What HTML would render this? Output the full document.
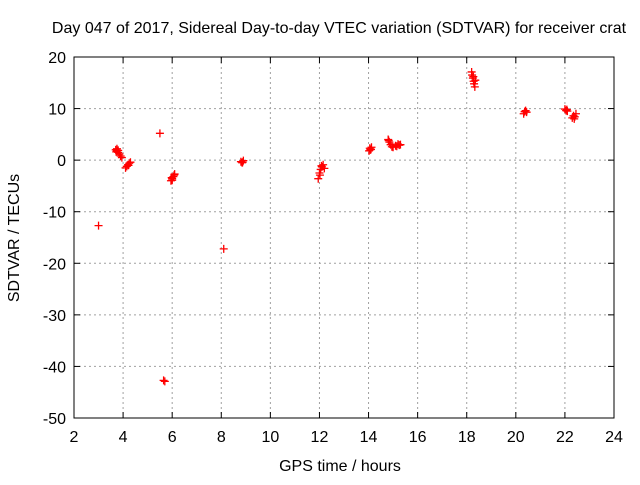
<!DOCTYPE html>
<html><head><meta charset="utf-8"><style>
body{margin:0;background:#fff}
svg{font-family:"Liberation Sans",sans-serif;font-size:16px}
</style></head><body>
<svg id="c" width="640" height="480">
<text x="339" y="33" text-anchor="middle">Day 047 of 2017, Sidereal Day-to-day VTEC variation (SDTVAR) for receiver crat</text>
<text x="340" y="471" text-anchor="middle">GPS time / hours</text>
<text transform="translate(19,238) rotate(-90)" text-anchor="middle">SDTVAR / TECUs</text>
<g id="grid"></g><g id="ticks"></g><g id="pts"></g>
<rect x="74" y="57" width="540" height="361" fill="none" stroke="#000"/>
</svg>
<script>
const xTicks=[2,4,6,8,10,12,14,16,18,20,22,24];
const yTicks=[20,10,0,-10,-20,-30,-40,-50];
const xs=[3.0,3.7,3.75,3.8,3.85,3.75,3.9,3.95,3.8,3.72,4.15,4.2,4.25,4.3,4.1,4.22,5.5,5.65,5.7,5.95,6.0,6.05,6.1,6.0,5.98,6.08,8.1,8.8,8.85,8.9,8.87,11.95,12.0,12.05,12.1,12.15,12.2,12.02,12.08,14.02,14.05,14.1,14.12,14.07,14.8,14.85,14.9,14.95,15.0,15.1,15.2,15.3,15.15,14.82,15.25,18.2,18.22,18.25,18.28,18.3,18.33,18.35,18.27,20.32,20.36,20.4,20.44,22.0,22.05,22.08,22.1,22.3,22.35,22.4,22.45,22.38];
const ys=[-12.7,2,1.8,1.5,1.2,2.2,0.8,0.5,1.9,1.6,-1.2,-0.9,-0.6,-0.4,-1.5,-1.0,5.2,-42.7,-42.9,-4,-3.6,-3.2,-2.7,-3.9,-3.4,-2.9,-17.2,-0.3,-0.5,-0.1,-0.4,-3.6,-2.5,-1.8,-1.3,-0.9,-1.6,-2.9,-1.1,1.8,2.3,2.1,2.5,2.0,4.0,3.5,3.0,2.6,2.5,2.8,3.1,3.0,2.7,3.8,2.9,17.1,16.5,15.9,15.3,14.8,14.2,15.5,16.2,9.0,9.4,9.6,9.3,9.9,9.6,9.8,9.5,8.2,8.6,8.4,9.0,8.0];
const X=v=>74+(v-2)*540/22, Y=v=>57+(20-v)*361/70;
const NS='http://www.w3.org/2000/svg';
function mk(t,a,p){const e=document.createElementNS(NS,t);for(const k in a)e.setAttribute(k,a[k]);p.appendChild(e);return e;}
const g=document.getElementById('grid'),tk=document.getElementById('ticks'),pg=document.getElementById('pts');
xTicks.forEach(v=>{const x=X(v);
 if(v>2&&v<24){const l=mk('line',{x1:x,x2:x,y1:57,y2:418,stroke:'#a0a0a0','stroke-dasharray':'2,3'},g);
 }
 mk('line',{x1:x,x2:x,y1:418,y2:412,stroke:'#000'},tk);mk('line',{x1:x,x2:x,y1:57,y2:63,stroke:'#000'},tk);
 const t=mk('text',{x:x,y:442,'text-anchor':'middle'},tk);t.textContent=v;
 });
yTicks.forEach(v=>{const y=Y(v);
 if(v<20&&v>-50){const l=mk('line',{x1:74,x2:614,y1:y,y2:y,stroke:'#a0a0a0','stroke-dasharray':'2,3'},g);
 }
 mk('line',{x1:74,x2:80,y1:y,y2:y,stroke:'#000'},tk);mk('line',{x1:614,x2:608,y1:y,y2:y,stroke:'#000'},tk);
 const t=mk('text',{x:66,y:y+6,'text-anchor':'end'},tk);t.textContent=v;
 });
xs.forEach((v,i)=>{const x=X(v),y=Y(ys[i]);
 const p=mk('path',{d:`M${x-4},${y}H${x+4}M${x},${y-4}V${y+4}`,stroke:'#f00','stroke-width':1.3},pg);
 });
</script>
</body></html>
